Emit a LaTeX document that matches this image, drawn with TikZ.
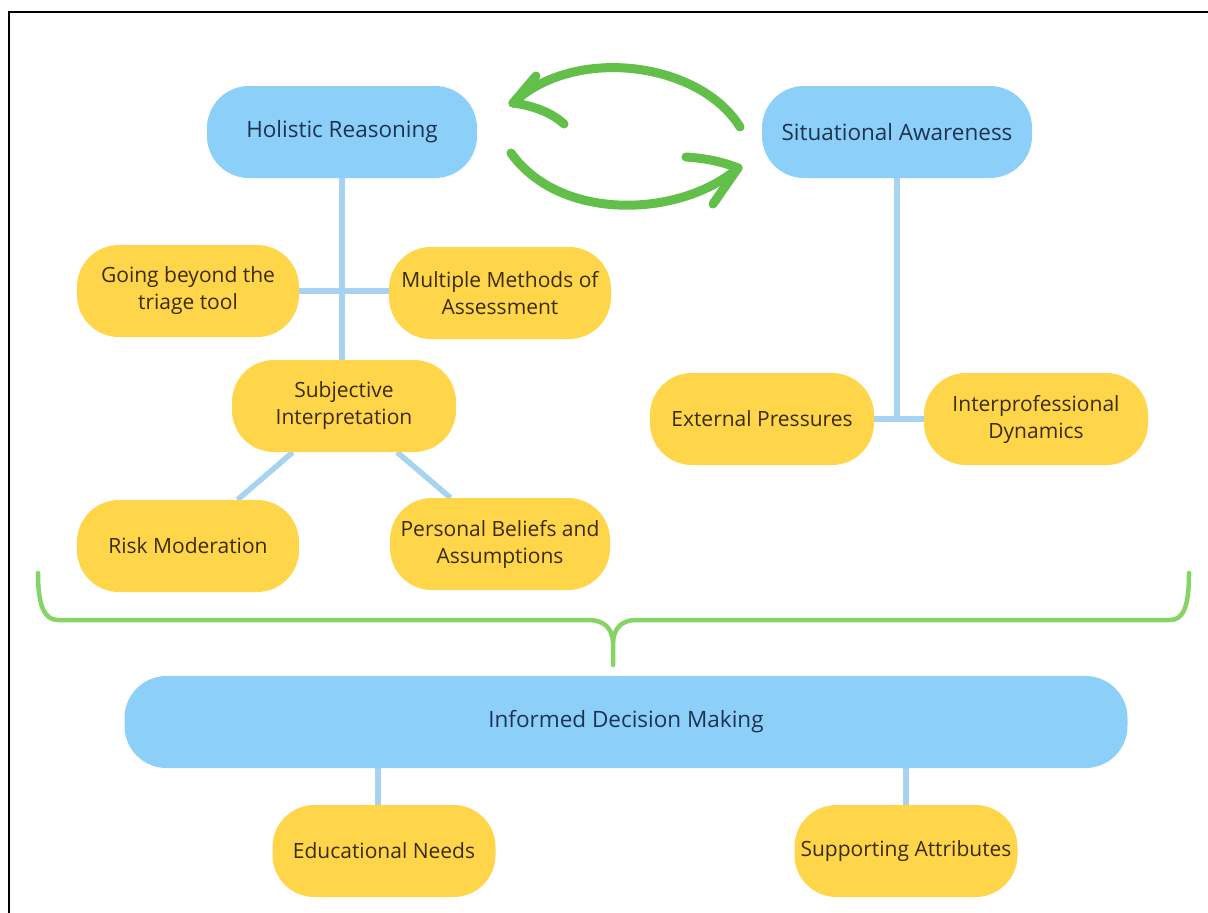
\documentclass[tikz,border=0pt]{standalone}
\usepackage{fontspec}
\setmainfont{Open Sans}
\usetikzlibrary{backgrounds}
\definecolor{bluefill}{HTML}{8CD0FA}
\definecolor{yelfill}{HTML}{FFD54A}
\definecolor{bluetext}{HTML}{1E3350}
\definecolor{yeltext}{HTML}{3A2C12}
\definecolor{linkblue}{HTML}{A6D3EF}
\definecolor{bracegreen}{HTML}{86D466}
\definecolor{arrowgreen}{HTML}{62C04A}
\begin{document}
\begin{tikzpicture}[x=1pt,y=-1pt,
  box/.style={rounded corners=42pt, minimum height=92pt, align=center, inner sep=4pt},
  bluebox/.style={box, fill=bluefill, text=bluetext, font=\fontsize{22.5}{28}\selectfont},
  yelbox/.style={box, fill=yelfill, text=yeltext, minimum width=222pt, font=\fontsize{21}{27}\selectfont},
  link/.style={draw=linkblue, line width=5.5pt},
  bracestyle/.style={draw=bracegreen, line width=4.5pt, line cap=round, line join=round},
  cyclearrow/.style={draw=arrowgreen, line width=9pt, line cap=round, line join=round}]
\useasboundingbox (0,0) rectangle (1208,913);

% nodes
\node[bluebox, minimum width=270pt] (hol) at (342,132) {Holistic Reasoning};
\node[bluebox, minimum width=270pt] (sit) at (897,132) {Situational Awareness};
\node[yelbox] (going) at (188,291) {Going beyond the\\triage tool};
\node[yelbox] (multi) at (500,293) {Multiple Methods of\\Assessment};
\node[yelbox, minimum width=224pt] (subj) at (344,406) {Subjective\\Interpretation};
\node[yelbox] (risk) at (188,546) {Risk Moderation};
\node[yelbox, minimum width=220pt] (pers) at (500,544) {Personal Beliefs and\\Assumptions};
\node[yelbox, minimum width=224pt] (ext) at (762,419) {External Pressures};
\node[yelbox, minimum width=224pt] (inter) at (1036,419) {Interprofessional\\Dynamics};
\node[bluebox, minimum width=1003pt] (inf) at (626,722) {Informed Decision Making};
\node[yelbox, minimum width=223pt] (edu) at (384,851) {Educational Needs};
\node[yelbox, minimum width=223pt] (supp) at (906,851) {Supporting Attributes};

% connectors (behind the boxes)
\begin{scope}[on background layer]
\fill[white] (0,0) rectangle (1208,913);
\draw[link] (hol.south) -- (hol.south |- subj.north);
\draw[link] (going.east) -- (going.east -| multi.west);
\draw[link] (subj.-138) -- (risk.43);
\draw[link] (subj.-41) -- (pers.137);
\draw[link] (sit.south) -- (sit.south |- ext.east);
\draw[link] (ext.east) -- (inter.west);
\draw[link] ([xshift=-6pt]inf.south -| edu.north) -- ([xshift=-6pt]edu.north);
\draw[link] (inf.south -| supp.north) -- (supp.north);
\end{scope}

% frame
\draw[line width=2.5pt, black] (9,913) -- (9,12) -- (1208,12);

% brace
\draw[bracestyle] (38,573) .. controls (38,605) and (44,620) .. (58,620) -- (588,620)
  .. controls (604,620) and (612,628) .. (613,642) -- (613,665);
\draw[bracestyle] (1189,573) .. controls (1189,605) and (1184,620) .. (1170,620) -- (636,620)
  .. controls (622,620) and (614,628) .. (613,642);

% cycle arrows
\draw[cyclearrow] (740,127) .. controls (700,62) and (575,45) .. (513,103);
\draw[cyclearrow] (513,103) -- (536,76);
\draw[cyclearrow] (513,103) .. controls (535,106) and (552,113) .. (564,124);
\draw[cyclearrow] (511,153) .. controls (560,222) and (680,218) .. (738,168);
\draw[cyclearrow] (738,168) .. controls (718,160) and (700,158) .. (686,157);
\draw[cyclearrow] (738,168) -- (713,204);
\end{tikzpicture}
\end{document}
